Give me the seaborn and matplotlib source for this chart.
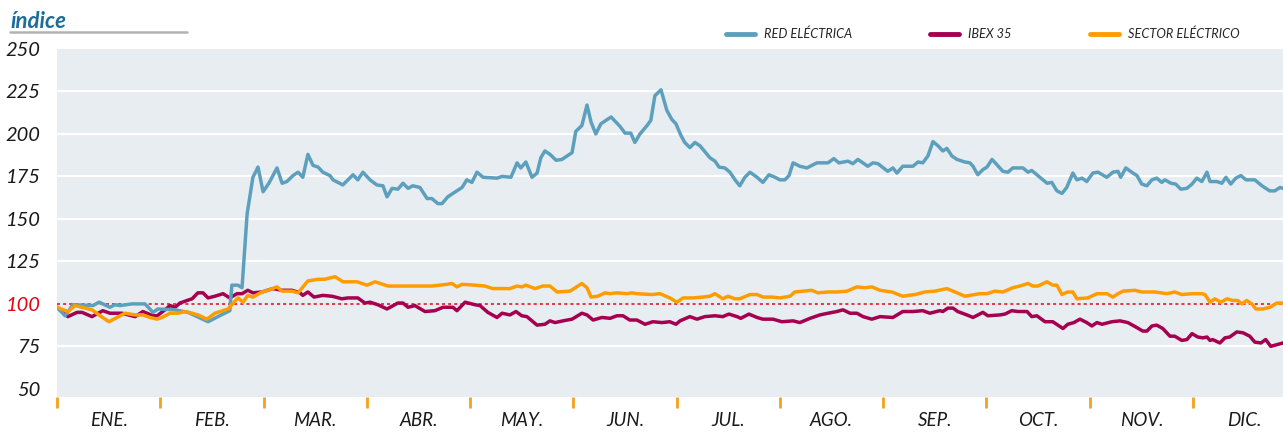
import pandas as pd
import matplotlib.pyplot as plt
import seaborn as sns
from matplotlib.lines import Line2D

# -----------------------------
# Datos (índice base 100, día del año)
# -----------------------------
meses = ["ENE.", "FEB.", "MAR.", "ABR.", "MAY.", "JUN.",
         "JUL.", "AGO.", "SEP.", "OCT.", "NOV.", "DIC."]

dias_red = [0, 2.4, 4.7, 10.6, 12.4, 15.6, 17.1, 18.6, 22.1, 25.9, 28.3, 29.7, 34.8, 38.6,
            44.5, 47.4, 50.9, 51.5, 53.3, 54.5, 56.0, 57.7, 59.2, 60.7, 62.4, 64.8, 66.3,
            67.7, 69.5, 71.0, 72.4, 73.9, 75.4, 76.9, 78.3, 80.4, 81.3, 84.2, 87.2, 88.6,
            90.1, 92.2, 94.2, 96.0, 97.2, 98.7, 100.4, 101.9, 103.4, 104.8, 106.9, 109.0,
            110.4, 112.2, 113.4, 115.1, 116.6, 119.3, 120.7, 122.2, 123.7, 125.5, 129.6,
            131.1, 133.7, 135.5, 136.6, 138.1, 139.9, 141.4, 142.5, 143.7, 145.2, 147.0,
            148.7, 151.7, 152.8, 154.6, 156.1, 157.3, 158.7, 160.2, 163.2, 165.8, 167.3,
            169.0, 170.2, 171.7, 173.8, 174.9, 176.1, 177.9, 179.6, 181.1, 182.3, 183.8,
            184.9, 186.4, 187.9, 189.4, 192.3, 193.8, 195.0, 196.7, 198.2, 199.7, 201.1,
            202.6, 204.1, 206.2, 207.9, 209.7, 211.5, 212.9, 214.4, 215.6, 216.8, 218.8,
            220.9, 223.8, 227.1, 228.8, 230.3, 233.0, 234.4, 235.9, 238.8, 240.3, 241.8,
            244.7, 246.2, 247.4, 249.1, 252.1, 253.6, 255.0, 256.5, 258.0, 259.5, 260.9,
            262.1, 263.6, 265.1, 267.4, 268.9, 269.8, 271.2, 272.7, 273.9, 275.4, 276.8,
            278.6, 280.1, 281.5, 284.5, 286.0, 287.1, 288.6, 291.6, 293.0, 294.5, 296.0,
            297.4, 299.2, 300.4, 301.9, 303.3, 305.1, 306.6, 309.2, 311.0, 312.5, 313.3,
            314.8, 316.9, 318.1, 319.5, 321.0, 322.5, 323.9, 325.4, 326.3, 328.1, 329.5,
            331.0, 332.8, 334.3, 335.7, 337.2, 338.7, 339.6, 341.6, 343.1, 344.3, 345.7,
            347.2, 348.7, 350.2, 352.8, 354.9, 357.2, 358.7, 360.2, 361.1]
red_electrica = [98, 93, 99.5, 99, 101, 98, 99.5, 99, 100, 100, 95, 97, 96.5, 95,
                 89.5, 92.5, 96, 111, 111, 109.5, 153, 174.5, 180.5, 166, 171, 180, 171,
                 172, 175.5, 177.5, 174.5, 188, 181.5, 180.5, 177.5, 175.5, 173, 170, 176, 173,
                 177.5, 173, 170, 169.5, 163, 168, 167.5, 171, 168, 169.5, 168.5, 162,
                 162, 159, 159, 163, 165, 168.5, 173, 171.5, 177.5, 174.5, 174,
                 175, 174.5, 183, 180, 183.5, 174.5, 177, 186, 190, 188, 184.5,
                 185, 189, 201.5, 205, 217, 207, 200, 206, 210, 204.5, 200.5,
                 200.5, 195, 200, 205, 208, 222.5, 226, 214, 208.5, 206, 199,
                 195, 192, 195, 193, 186, 184, 180.5, 180, 177.5, 173, 169.5,
                 174.5, 177.5, 174.5, 171.5, 176, 174.5, 173, 173, 175.5, 183, 181,
                 180, 183, 183, 185.5, 183, 184, 182.5, 185, 181, 183, 182.5,
                 178, 180, 177, 181, 181, 183.5, 183, 187, 195.5, 193, 190,
                 191.5, 187, 185, 183.5, 183, 181, 176, 179, 180.5, 185, 182,
                 178, 177.5, 180, 180, 177.5, 178.5, 176, 171, 171.5, 166.5, 165,
                 168.5, 177, 173, 174, 172, 177, 177.5, 174.5, 177.5, 178, 174.5,
                 180, 177, 175.5, 170.5, 169.5, 173, 174, 171.5, 173, 171, 170.5,
                 167.5, 168, 170.5, 174, 172, 177.5, 172, 172, 171, 174.5, 170.5,
                 174, 175.5, 173, 173, 169.5, 166.5, 166.5, 168.5, 168]

dias_ibex = [0, 3.2, 5.9, 7.4, 10.3, 12.1, 13.5, 15.6, 19.1, 23.0, 25.3, 28.3, 29.5, 31.8,
             33.3, 34.8, 36.2, 38.3, 39.8, 41.5, 43.0, 44.5, 46.5, 48.9, 50.9, 53.0, 54.5,
             56.2, 57.7, 60.4, 63.6, 66.3, 69.2, 71.6, 72.4, 73.9, 75.7, 78.3, 81.0, 83.9,
             85.7, 88.6, 90.7, 92.2, 94.5, 97.2, 100.4, 101.9, 103.4, 105.4, 108.4, 111.3,
             113.7, 116.6, 117.8, 120.2, 123.1, 124.6, 126.9, 129.6, 131.1, 133.4, 135.2,
             136.9, 138.4, 141.4, 143.7, 145.2, 146.7, 149.0, 151.7, 154.6, 156.1, 157.9,
             160.5, 162.9, 164.9, 166.7, 168.7, 170.8, 173.2, 175.5, 178.2, 180.5, 182.3,
             183.5, 186.4, 188.5, 190.8, 193.8, 196.1, 197.9, 200.3, 201.4, 203.8, 206.2,
             207.9, 210.9, 213.5, 216.8, 218.8, 221.8, 224.7, 227.1, 229.7, 231.5, 233.6,
             235.6, 237.4, 240.0, 242.4, 246.2, 249.1, 252.1, 255.0, 257.1, 260.0, 260.9,
             262.4, 263.9, 265.3, 268.0, 269.8, 272.7, 274.2, 277.7, 279.2, 281.2, 283.0,
             285.7, 287.1, 288.6, 291.0, 293.3, 296.3, 297.7, 299.5, 301.3, 303.3, 304.8,
             306.3, 307.8, 310.7, 313.1, 315.4, 318.1, 319.8, 321.0, 322.5, 323.9, 325.7,
             327.8, 329.2, 331.3, 332.8, 334.3, 336.0, 337.5, 338.7, 339.6, 340.4, 342.5,
             344.0, 345.4, 347.5, 349.3, 351.3, 352.8, 354.6, 356.0, 357.5, 359.3, 361.1]
ibex35 = [98, 92.5, 95, 95, 92.5, 94.5, 96, 94.5, 94.5, 92.5, 95.5, 93, 93, 96.5,
          99, 98, 100.5, 102, 103, 106.5, 106.5, 103.5, 104.5, 106, 103.5, 106, 106,
          108, 106.5, 107, 109, 108, 108, 106.5, 105, 107, 104, 105, 104.5, 103,
          103.5, 103.5, 100.5, 101, 99.5, 97, 100.5, 100.5, 98, 99, 95.5, 96,
          98, 98, 96, 101, 99.5, 99, 95, 92, 94.5, 93.5, 95.5,
          93, 92.5, 87.5, 88, 90, 89, 90, 91, 94.5, 93.5, 90.5,
          92, 91.5, 93, 93, 90.5, 90.5, 88, 89.5, 89, 89.5, 88,
          90, 92.5, 91, 92.5, 93, 92.5, 94, 92.5, 91.5, 94, 92,
          91, 91, 89.5, 90, 89, 91.5, 93.5, 94.5, 95.5, 96.5, 94.5,
          94.5, 92.5, 91, 92.5, 92, 95.5, 95.5, 96, 94.5, 96, 95.5,
          97.5, 97.5, 95.5, 93.5, 92, 95, 93, 93.5, 94, 96, 95.5,
          95.5, 92.5, 93, 89.5, 89.5, 85.5, 88, 89, 91, 89, 87,
          89, 88, 89.5, 90, 89, 86, 84, 84, 87, 87.5, 85.5,
          81, 81, 78.5, 79, 82.5, 80.5, 80, 80.5, 78.5, 79, 77,
          80, 80.5, 83.5, 83, 81, 77.5, 77, 79, 75, 76, 77]

dias_sector = [0, 3.2, 5.3, 7.4, 10.3, 12.7, 15.3, 17.7, 20.0, 23.0, 25.3, 27.4, 29.5, 30.9,
               33.3, 35.6, 37.7, 39.8, 41.5, 44.2, 46.5, 48.9, 50.4, 53.3, 54.8, 56.2, 57.7,
               60.4, 62.1, 64.8, 66.3, 69.2, 71.0, 73.9, 76.9, 78.9, 81.9, 84.2, 88.4, 91.3,
               93.7, 97.5, 101.6, 105.4, 110.4, 114.9, 116.3, 117.8, 119.3, 123.1, 126.0,
               128.4, 133.4, 135.5, 136.9, 138.1, 140.8, 143.1, 145.2, 147.3, 151.1, 154.6,
               156.1, 157.3, 159.3, 161.4, 162.9, 164.9, 167.9, 169.3, 170.8, 175.2, 177.6,
               180.5, 182.6, 184.4, 187.3, 190.2, 192.3, 193.8, 196.1, 197.6, 199.7, 201.1,
               204.1, 206.2, 207.9, 210.6, 212.9, 215.9, 217.3, 219.7, 222.3, 224.1, 227.1,
               229.7, 232.7, 235.6, 238.0, 240.0, 242.4, 245.9, 249.1, 252.7, 255.6, 258.6,
               262.1, 265.1, 267.4, 271.8, 273.9, 276.2, 278.6, 281.5, 283.6, 286.0, 287.4,
               288.9, 291.6, 293.3, 294.5, 296.0, 297.7, 299.2, 300.4, 303.6, 306.3, 309.2,
               311.0, 312.5, 314.0, 317.5, 319.5, 323.4, 326.9, 329.2, 331.3, 334.3, 337.2,
               338.1, 339.6, 341.0, 342.8, 344.6, 346.3, 347.8, 349.0, 350.4, 351.9, 353.1,
               355.2, 357.2, 359.3, 361.1]
sector_electrico = [98, 95.5, 99, 98, 96.5, 93, 89.5, 92, 94.5, 93.5, 93.5, 92, 91, 92,
                    94.5, 94.5, 95.5, 94.5, 93.5, 91, 94.5, 96, 97, 103.5, 101, 105, 104,
                    107, 108, 110, 107.5, 107.5, 106.5, 113.5, 114.5, 114.5, 116, 113, 113, 111,
                    113, 110.5, 110.5, 110.5, 110.5, 111.5, 112, 110, 111.5, 111, 110.5,
                    109, 109, 110.5, 110, 111, 109, 110.5, 110.5, 107, 107.5, 112,
                    109.5, 104, 104.5, 106.5, 106, 106.5, 106, 106.5, 106, 105.5, 106,
                    103.5, 101, 103.5, 103.5, 104, 104.5, 106, 103, 104.5, 103, 103,
                    105.5, 105.5, 104, 104, 103.5, 104.5, 107, 107.5, 108, 106.5, 107,
                    107, 107.5, 110, 109.5, 110, 108, 107, 104.5, 105.5, 107, 107.5,
                    109, 106.5, 104.5, 106, 106, 107.5, 107, 109.5, 110.5, 112, 110.5,
                    110.5, 113, 111, 111, 105.5, 107, 107, 103, 103.5, 106, 106,
                    104, 106, 107.5, 108, 107, 107, 106, 107, 105.5, 106, 106,
                    105.5, 101, 103, 101, 103, 102, 102, 100, 102, 100, 97,
                    97, 98, 100.5, 100.5]

series = ["RED ELÉCTRICA", "IBEX 35", "SECTOR ELÉCTRICO"]
colores = {"RED ELÉCTRICA": "#5da0bd", "IBEX 35": "#a5004f", "SECTOR ELÉCTRICO": "#ff9d00"}

df = pd.concat([
    pd.DataFrame({"dia": dias_red, "indice": red_electrica, "serie": "RED ELÉCTRICA"}),
    pd.DataFrame({"dia": dias_ibex, "indice": ibex35, "serie": "IBEX 35"}),
    pd.DataFrame({"dia": dias_sector, "indice": sector_electrico, "serie": "SECTOR ELÉCTRICO"}),
])

# -----------------------------
# Estilo
# -----------------------------
sns.set_theme(style="white")
plt.rcParams['font.family'] = ['Lato', 'DejaVu Sans']

fig = plt.figure(figsize=(12.83, 4.33), dpi=100)
ax = fig.add_axes([57 / 1283, 1 - 397 / 433, 1 - 57 / 1283, (397 - 49) / 433])
ax.set_facecolor("#e8edf1")

mes = 365 / 12
ax.set_xlim(0, 361.1)
ax.set_ylim(45.2, 250)

# rejilla horizontal blanca
for v in [75, 125, 150, 175, 200, 225]:
    ax.axhline(v, color="white", lw=1.6, zorder=1)
ax.axhline(100, color="#e30613", lw=1.1, ls=(0, (2, 2)), zorder=2)

# orden de dibujo: IBEX, RED, SECTOR
for s in ["IBEX 35", "RED ELÉCTRICA", "SECTOR ELÉCTRICO"]:
    sns.lineplot(data=df[df["serie"] == s], x="dia", y="indice", color=colores[s],
                 lw=2.5, sort=False, estimator=None, ax=ax, zorder=3)

for sp in ax.spines.values():
    sp.set_visible(False)

# ejes
ax.set_xlabel("")
ax.set_ylabel("")
ax.set_yticks([50, 75, 100, 125, 150, 175, 200, 225, 250])
ax.set_yticklabels(["50", "75", "100", "125", "150", "175", "200", "225", "250"],
                   fontsize=14.5, style="italic", color="#1a1a1a")
ax.get_yticklabels()[2].set_color("#e30613")
ax.tick_params(axis="y", length=0, pad=12)

ax.set_xticks([k * mes for k in range(12)])
ax.set_xticklabels([])
ax.set_xticks([(k + 0.5) * mes for k in range(12)], minor=True)
ax.set_xticklabels(meses, minor=True, fontsize=13.5, style="italic", color="#1a1a1a")
ax.tick_params(axis="x", which="major", direction="out", length=8, width=2,
               color="#f7a11a", bottom=True)
ax.tick_params(axis="x", which="minor", length=0, pad=11, bottom=True)

# título
fig.text(10 / 1283, 1 - 21 / 433, "índice", fontsize=16, fontweight="bold",
         style="italic", color="#1b6e99", va="center", ha="left")
fig.add_artist(Line2D([10 / 1283, 187 / 1283], [1 - 32 / 433, 1 - 32 / 433],
                      color="#b3b3b3", lw=1.8, transform=fig.transFigure))

# leyenda
handles = [Line2D([], [], color=colores[s], lw=3.5) for s in series]
fig.legend(handles, series, loc="center left", ncol=3, frameon=False,
           bbox_to_anchor=(714 / 1283, 1 - 34 / 433), handlelength=2.3,
           handletextpad=0.7, columnspacing=6.1,
           prop={"size": 9.2, "style": "italic"})

fig.savefig("out.png", dpi=100)
plt.close()
